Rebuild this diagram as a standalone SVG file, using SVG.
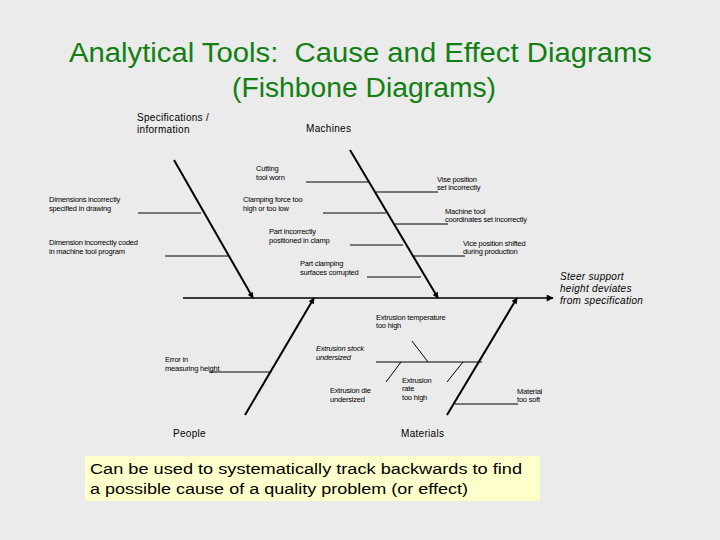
<svg xmlns="http://www.w3.org/2000/svg" width="720" height="540" viewBox="0 0 720 540">
<defs>
<marker id="ah" viewBox="0 0 10 10" refX="9" refY="5" markerWidth="8" markerHeight="7" markerUnits="userSpaceOnUse" orient="auto"><path d="M0,0 L10,5 L0,10 z" fill="#000"/></marker>
<marker id="ahs" viewBox="0 0 10 10" refX="9" refY="5" markerWidth="7" markerHeight="6" markerUnits="userSpaceOnUse" orient="auto"><path d="M0,0 L10,5 L0,10 z" fill="#000"/></marker>
</defs>
<style>
.title{font-family:"Liberation Sans","DejaVu Sans",sans-serif;font-size:27px;fill:#127f12;white-space:pre}
.cat{font-family:"Liberation Sans",Arial,sans-serif;font-size:10px;letter-spacing:0.3px;fill:#000}
.eff{font-family:"Liberation Sans",Arial,sans-serif;font-size:10px;font-style:italic;letter-spacing:0.3px;fill:#000}
.lbl{font-family:"Liberation Sans",Arial,sans-serif;font-size:7.5px;letter-spacing:-0.2px;fill:#000}
.it{font-style:italic}
.bone{stroke:#000;stroke-width:2;fill:none}
.spine{stroke:#000;stroke-width:1.5;fill:none}
.sub{stroke:#000;stroke-width:1;fill:none}
.note{font-family:"Liberation Sans","DejaVu Sans",sans-serif;font-size:14px;fill:#000}
</style>
<rect width="720" height="540" fill="#ebebeb"/>
<g id="title">
<text class="title" x="69" y="62" textLength="583" lengthAdjust="spacingAndGlyphs">Analytical Tools:  Cause and Effect Diagrams</text>
<text class="title" x="232" y="97" textLength="264" lengthAdjust="spacingAndGlyphs">(Fishbone Diagrams)</text>
</g>
<g id="connectors">
<line class="spine" x1="183" y1="298" x2="553" y2="298" marker-end="url(#ah)"/>
<line class="bone" x1="174" y1="160" x2="253" y2="298" marker-end="url(#ahs)"/>
<line class="bone" x1="350" y1="150" x2="438" y2="298" marker-end="url(#ahs)"/>
<line class="bone" x1="245" y1="415" x2="314" y2="298" marker-end="url(#ahs)"/>
<line class="bone" x1="447" y1="415" x2="517" y2="298" marker-end="url(#ahs)"/>
<line class="sub" x1="138" y1="213" x2="201" y2="213"/>
<line class="sub" x1="165" y1="256" x2="228" y2="256"/>
<line class="sub" x1="306" y1="182" x2="369" y2="182"/>
<line class="sub" x1="323" y1="213" x2="386" y2="213"/>
<line class="sub" x1="350" y1="245" x2="403" y2="245"/>
<line class="sub" x1="367" y1="277" x2="421" y2="277"/>
<line class="sub" x1="376" y1="192" x2="438" y2="192"/>
<line class="sub" x1="395" y1="224" x2="448" y2="224"/>
<line class="sub" x1="414" y1="256" x2="465" y2="256"/>
<line class="sub" x1="209" y1="372" x2="271" y2="372"/>
<line class="sub" x1="455" y1="404" x2="518" y2="404"/>
<line class="sub" x1="376" y1="362" x2="482" y2="362"/>
<line class="sub" x1="412" y1="341" x2="428" y2="362"/>
<line class="sub" x1="401" y1="362" x2="386" y2="382"/>
<line class="sub" x1="463" y1="362" x2="447" y2="382"/>
</g>
<g id="effect">
<text class="eff" x="560" y="280">Steer support</text>
<text class="eff" x="560" y="292">height deviates</text>
<text class="eff" x="560" y="304">from specification</text>
</g>
<g id="cat-specifications">
<text class="cat" x="137" y="121">Specifications /</text>
<text class="cat" x="137" y="133">information</text>
</g>
<g id="cat-machines"><text class="cat" x="306" y="132">Machines</text></g>
<g id="cat-people"><text class="cat" x="173" y="437">People</text></g>
<g id="cat-materials"><text class="cat" x="401" y="437">Materials</text></g>
<g id="c-dim-spec">
<text class="lbl" x="49" y="202">Dimensions incorrectly</text>
<text class="lbl" x="49" y="211">specified in drawing</text>
</g>
<g id="c-dim-coded">
<text class="lbl" x="49" y="245">Dimension incorrectly coded</text>
<text class="lbl" x="49" y="254">in machine tool program</text>
</g>
<g id="c-cutting">
<text class="lbl" x="256" y="171">Cutting</text>
<text class="lbl" x="256" y="180">tool worn</text>
</g>
<g id="c-clamping">
<text class="lbl" x="243" y="202">Clamping force too</text>
<text class="lbl" x="243" y="211">high or too low</text>
</g>
<g id="c-part-pos">
<text class="lbl" x="269" y="234">Part incorrectly</text>
<text class="lbl" x="269" y="243">positioned in clamp</text>
</g>
<g id="c-part-surf">
<text class="lbl" x="300" y="266">Part clamping</text>
<text class="lbl" x="300" y="275">surfaces corrupted</text>
</g>
<g id="c-vise-set">
<text class="lbl" x="437" y="182">Vise position</text>
<text class="lbl" x="437" y="190">set incorrectly</text>
</g>
<g id="c-machine-coord">
<text class="lbl" x="445" y="214">Machine tool</text>
<text class="lbl" x="445" y="222">coordinates set incorrectly</text>
</g>
<g id="c-vice-shift">
<text class="lbl" x="463" y="246">Vice position shifted</text>
<text class="lbl" x="463" y="254">during production</text>
</g>
<g id="c-error">
<text class="lbl" x="165" y="362">Error in</text>
<text class="lbl" x="165" y="371">measuring height</text>
</g>
<g id="c-extr-temp">
<text class="lbl" x="376" y="320">Extrusion temperature</text>
<text class="lbl" x="376" y="328">too high</text>
</g>
<g id="c-extr-stock">
<text class="lbl it" x="316" y="351">Extrusion stock</text>
<text class="lbl it" x="316" y="360">undersized</text>
</g>
<g id="c-extr-die">
<text class="lbl" x="330" y="393">Extrusion die</text>
<text class="lbl" x="330" y="402">undersized</text>
</g>
<g id="c-extr-rate">
<text class="lbl" x="402" y="383">Extrusion</text>
<text class="lbl" x="402" y="391">rate</text>
<text class="lbl" x="402" y="400">too high</text>
</g>
<g id="c-material">
<text class="lbl" x="517" y="394">Material</text>
<text class="lbl" x="517" y="402">too soft</text>
</g>
<g id="note">
<rect x="85" y="456" width="455" height="45" fill="#ffffcc"/>
<text class="note" x="90" y="474" textLength="432" lengthAdjust="spacingAndGlyphs">Can be used to systematically track backwards to find</text>
<text class="note" x="90" y="494" textLength="378" lengthAdjust="spacingAndGlyphs">a possible cause of a quality problem (or effect)</text>
</g>
</svg>
